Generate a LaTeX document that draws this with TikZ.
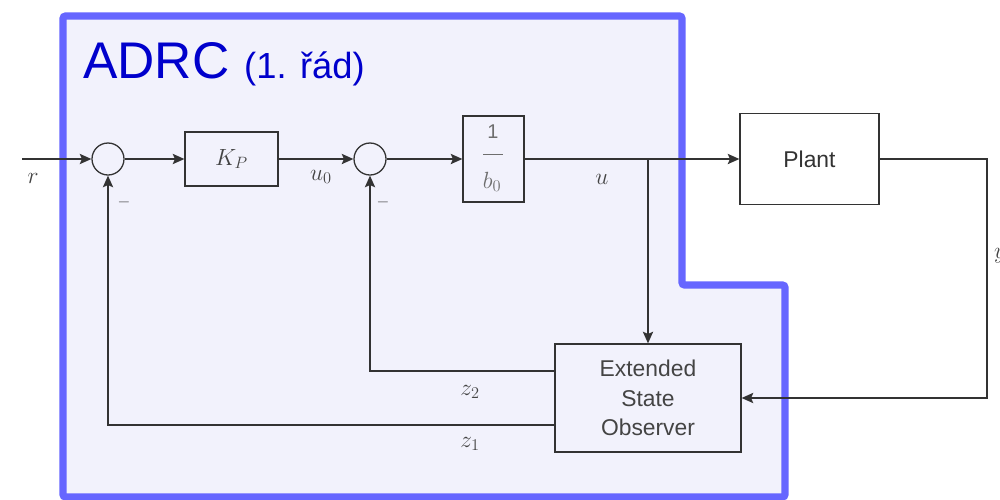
\RequirePackage{fix-cm}
\documentclass[tikz,border=0pt]{standalone}
\usepackage{fontspec}
\setmainfont{Liberation Sans}
\usetikzlibrary{arrows.meta,calc}
\definecolor{adrcborder}{RGB}{102,102,255}
\definecolor{adrcfill}{RGB}{242,242,252}
\definecolor{adrcblue}{RGB}{0,0,204}
\definecolor{linecol}{RGB}{51,51,51}
\definecolor{labcol}{RGB}{68,68,68}
\definecolor{fraccol}{RGB}{110,110,110}
\tikzset{
  conn/.style={draw=linecol,line width=1.1pt,-{Stealth[length=3.5mm,width=3.1mm,inset=0.7mm]}},
  blk/.style={draw=linecol,line width=1.1pt,rectangle,inner sep=0pt},
  sumc/.style={draw=linecol,line width=1.1pt,circle,minimum size=0.96cm,inner sep=0pt},
  mlab/.style={text=labcol,font=\fontsize{20}{22}\selectfont,inner sep=0pt},
  minus/.style={text=labcol,font=\fontsize{14}{16}\selectfont,inner sep=0pt},
  sflab/.style={text=linecol,font=\fontsize{19.5}{24}\selectfont,align=center}
}
\begin{document}
\begin{tikzpicture}[x=0.03cm,y=-0.03cm]
\useasboundingbox (0,0) rectangle (1000,499);
% ADRC region
\filldraw[fill=adrcfill,draw=adrcborder,line width=6pt,rounded corners=2pt]
  (63,16) -- (682,16) -- (682,285) -- (785,285) -- (785,497) -- (63,497) -- cycle;
\node[anchor=base west,inner sep=0pt,text=adrcblue,font=\fontsize{44}{50}\selectfont] (title) at (83,78) {ADRC};
\node[anchor=base west,inner sep=0pt,text=adrcblue,font=\fontsize{31}{36}\selectfont] (subtitle) at (244,78) {(1. řád)};
% blocks
\node[sumc] (s1) at (108,159) {};
\node[blk,minimum width=2.79cm,minimum height=1.62cm,mlab] (kp) at (231.5,159) {$K_P$};
\node[sumc] (s2) at (370,159) {};
\node[blk,minimum width=1.83cm,minimum height=2.58cm] (b0) at (493.5,159) {};
\node[inner sep=0pt,text=fraccol,font=\fontsize{17}{20}\selectfont] (one) at (493,132) {1};
\node[mlab,text=fraccol] (bzero) at (492,182) {$b_0$};
\draw[draw=fraccol,line width=0.8pt] (483,154) -- (503,154);
\node[blk,fill=white,minimum width=4.17cm,minimum height=2.73cm,sflab] (plant) at (809.5,159) {Plant};
\node[blk,minimum width=5.58cm,minimum height=3.24cm,sflab,text=labcol,font=\fontsize{19.5}{25}\selectfont] (eso) at (648,398) {Extended\\State\\Observer};
% coordinates
\coordinate (rin) at (22,159);
\coordinate (junc) at (eso.north |- b0.east);
\coordinate (ytop) at (987,159);
\coordinate (ybot) at (987,398);
\coordinate (h2) at (0,371);
\coordinate (h1) at (0,425);
% connectors
\draw[conn] (rin) -- (s1);
\draw[conn] (s1) -- (kp);
\draw[conn] (kp) -- (s2);
\draw[conn] (s2) -- (b0);
\draw[conn] (b0) -- (plant);
\draw[conn] (junc) -- (eso.north);
\draw[conn] (plant.east) -- (ytop) -- (ybot) -- (eso.east);
\draw[conn] (eso.west |- h2) -| (s2);
\draw[conn] (eso.west |- h1) -| (s1);
% labels
\node[mlab] (lr) at (33,178) {$r$};
\node[mlab] (lu0) at (321,177) {$u_0$};
\node[mlab] (lu) at (602,179) {$u$};
\node[minus] (m1) at (124,202) {$-$};
\node[minus] (m2) at (383,202) {$-$};
\node[mlab] (lz2) at (470,392) {$z_2$};
\node[mlab] (lz1) at (470,444) {$z_1$};
\node[mlab,anchor=west] (ly) at (994,256) {$y$};
\end{tikzpicture}
\end{document}
